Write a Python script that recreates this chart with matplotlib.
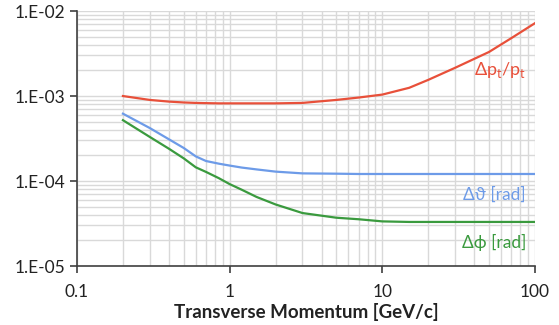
import numpy as np
import matplotlib
matplotlib.use("Agg")
import matplotlib.pyplot as plt
from matplotlib.ticker import LogLocator, FixedLocator, NullFormatter

plt.rcParams['font.family'] = ['Lato', 'DejaVu Sans']

# transverse momentum [GeV/c]
pt = [0.2, 0.3, 0.4, 0.5, 0.6, 0.7, 0.85, 1.0, 1.2, 1.5, 2, 3, 5, 7,
      10, 15, 20, 30, 50, 70, 100]

# resolutions
dpt_pt = [1.0e-3, 0.9e-3, 0.86e-3, 0.84e-3, 0.83e-3, 0.825e-3, 0.82e-3, 0.82e-3,
          0.82e-3, 0.82e-3, 0.82e-3, 0.83e-3, 0.9e-3, 0.96e-3,
          1.04e-3, 1.25e-3, 1.55e-3, 2.15e-3, 3.3e-3, 4.8e-3, 7.2e-3]
dtheta = [6.2e-4, 4.2e-4, 3.1e-4, 2.45e-4, 1.95e-4, 1.72e-4, 1.6e-4, 1.52e-4,
          1.44e-4, 1.37e-4, 1.29e-4, 1.23e-4, 1.22e-4, 1.21e-4,
          1.21e-4, 1.21e-4, 1.21e-4, 1.21e-4, 1.21e-4, 1.21e-4, 1.21e-4]
dphi = [5.2e-4, 3.3e-4, 2.4e-4, 1.85e-4, 1.45e-4, 1.28e-4, 1.08e-4, 9.2e-5,
        7.9e-5, 6.5e-5, 5.3e-5, 4.2e-5, 3.7e-5, 3.55e-5,
        3.35e-5, 3.3e-5, 3.3e-5, 3.3e-5, 3.3e-5, 3.3e-5, 3.3e-5]

red = '#e8503a'
blue = '#6d9be8'
green = '#3a9a3e'

fig = plt.figure(figsize=(5.59, 3.25), dpi=100)
ax = fig.add_axes([0.1377, 0.1815, 0.8193, 0.7845])

ax.plot(pt, dpt_pt, color=red, lw=1.6)
ax.plot(pt, dtheta, color=blue, lw=1.6)
ax.plot(pt, dphi, color=green, lw=1.6)

ax.set_xscale('log')
ax.set_yscale('log')
ax.set_xlim(0.1, 100)
ax.set_ylim(1e-5, 1e-2)

ax.xaxis.set_major_locator(FixedLocator([0.1, 1, 10, 100]))
ax.yaxis.set_major_locator(FixedLocator([1e-5, 1e-4, 1e-3, 1e-2]))
ax.xaxis.set_minor_locator(LogLocator(base=10, subs=np.arange(2, 10)))
ax.yaxis.set_minor_locator(LogLocator(base=10, subs=np.arange(2, 10)))
ax.xaxis.set_minor_formatter(NullFormatter())
ax.yaxis.set_minor_formatter(NullFormatter())
ax.set_xticklabels(['0.1', '1', '10', '100'])
ax.set_yticklabels(['1.E-05', '1.E-04', '1.E-03', '1.E-02'])

ax.grid(True, which='both', color='#d9d9d9', lw=1.0)
ax.set_axisbelow(True)
ax.tick_params(which='minor', length=0)
ax.tick_params(which='major', length=5, width=1.2, color='#404040',
               labelsize=12.5, labelcolor='#222222')
ax.tick_params(axis='x', pad=8)

for s in ['top', 'right']:
    ax.spines[s].set_visible(False)
for s in ['left', 'bottom']:
    ax.spines[s].set_color('#404040')
    ax.spines[s].set_linewidth(1.2)

ax.set_xlabel('Transverse Momentum [GeV/c]', fontsize=13.5, fontweight='bold',
              color='#222222', labelpad=2)

ax.text(59, 2.0e-3, 'Δp$_\\mathregular{t}$/p$_\\mathregular{t}$', color=red,
        fontsize=13, ha='center', va='center')
ax.text(54, 7.0e-5, 'Δϑ [rad]', color=blue, fontsize=12.5, ha='center', va='center')
ax.text(54, 1.9e-5, 'Δϕ [rad]', color=green, fontsize=12.5, ha='center', va='center')

fig.savefig('out.png', dpi=100)
